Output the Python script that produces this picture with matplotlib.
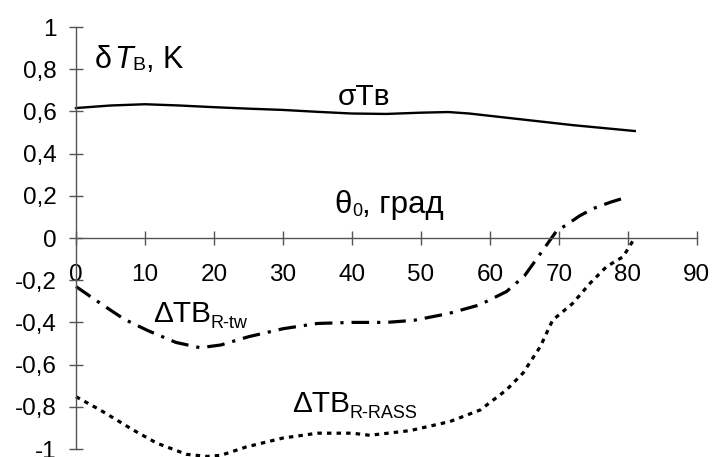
import matplotlib
matplotlib.use("Agg")
import matplotlib.pyplot as plt
from matplotlib.transforms import offset_copy
import numpy as np

plt.rcParams['font.family'] = ['Liberation Sans', 'DejaVu Sans']

# sigma TB (solid)
x_sig = [0, 5, 10, 15, 20, 25, 30, 35, 40, 45, 50, 54, 57, 63, 72, 81]
y_sig = [0.616, 0.628, 0.634, 0.628, 0.62, 0.613, 0.607, 0.598, 0.59, 0.588, 0.594, 0.597, 0.59, 0.568, 0.535, 0.507]

# dTB R-tw (dash-dot)
x_tw = [0, 2, 4, 7, 10.5, 14.5, 18, 21, 25, 30, 35, 40, 45, 49, 54, 58.5, 62.4, 65, 67.3, 69.7, 71, 73, 75, 77.5, 80]
y_tw = [-0.23, -0.275, -0.32, -0.385, -0.44, -0.495, -0.52, -0.507, -0.468, -0.43, -0.405, -0.40, -0.40, -0.39,
        -0.358, -0.317, -0.254, -0.18, -0.075, 0.035, 0.06, 0.105, 0.14, 0.17, 0.195]

# dTB R-RASS (dotted)
x_rass = [0, 3.5, 8.3, 11.7, 16, 19, 21, 24.7, 30, 35, 40, 42.6, 48.4, 54.2, 58.6, 62.4, 64.8, 67.3, 69.1, 72,
          74.5, 76.9, 79.3, 80.8]
y_rass = [-0.752, -0.815, -0.91, -0.972, -1.025, -1.035, -1.03, -0.99, -0.948, -0.925, -0.925, -0.935, -0.913,
          -0.87, -0.815, -0.72, -0.64, -0.515, -0.389, -0.31, -0.215, -0.136, -0.089, -0.01]

xticks = np.arange(0, 100, 10)
yticks = [-1, -0.8, -0.6, -0.4, -0.2, 0, 0.2, 0.4, 0.6, 0.8, 1]
ylabels = ['-1', '-0,8', '-0,6', '-0,4', '-0,2', '0', '0,2', '0,4', '0,6', '0,8', '1']

fig = plt.figure(figsize=(7.14, 4.57), dpi=100)
ax = fig.add_axes([0.1064, 0.0175, 0.8696, 0.9234])

ax.plot(x_sig, y_sig, color='black', lw=1.7, clip_on=False)
ax.plot(x_tw, y_tw, color='black', lw=2.3, dashes=(5.5, 2.5, 1, 2.5), clip_on=False)
ax.plot(x_rass, y_rass, color='black', lw=2.3, dashes=(1.4, 1.6), clip_on=False)

ax.set_xlim(0, 90)
ax.set_ylim(-1, 1)

# axes crossing at zero
ax.spines['left'].set_position(('data', 0))
ax.spines['bottom'].set_position(('data', 0))
ax.spines['top'].set_visible(False)
ax.spines['right'].set_visible(False)
for s in ['left', 'bottom']:
    ax.spines[s].set_color('#555555')
    ax.spines[s].set_linewidth(1.0)

ax.set_xticks(xticks)
ax.set_xticklabels([str(v) for v in xticks])
ax.set_yticks(yticks)
ax.set_yticklabels(ylabels)
ax.tick_params(axis='both', direction='inout', length=9.5, width=1.0, color='#555555', labelsize=17.5)
ax.tick_params(axis='x', pad=14)
ax.tick_params(axis='y', pad=9)

renderer = fig.canvas.get_renderer()


# write pieces of a label one after another (subscripts are smaller and lower)
def chain(x, y, parts):
    dx = 0.0
    for s, size, dy, style in parts:
        tr = offset_copy(ax.transData, fig=fig, x=dx, y=dy, units='points')
        t = ax.text(x, y, s, fontsize=size, style=style, va='baseline', ha='left', transform=tr)
        dx += t.get_window_extent(renderer).width * 72.0 / fig.dpi


big = 21.5
small = 13
chain(2.75, 0.804, [('δ', 22, 0, 'normal'), (' ', 6, 0, 'normal'), ('T', 22, 0, 'italic'),
                    ('B', 14, -1, 'normal'), (', K', 22, 0, 'normal')])
chain(38.0, 0.63, [('σTв', big, 0, 'normal')])
chain(37.5, 0.118, [('θ', 22.5, 0, 'normal'), ('0', small, -2, 'normal'), (', град', 22.5, 0, 'normal')])
chain(11.16, -0.396, [('ΔTB', big, 0, 'normal'), ('R-tw', small, -4.3, 'normal')])
chain(31.3, -0.825, [('ΔTB', big, 0, 'normal'), ('R-RASS', small, -4.3, 'normal')])

fig.savefig('out.png', dpi=100)
